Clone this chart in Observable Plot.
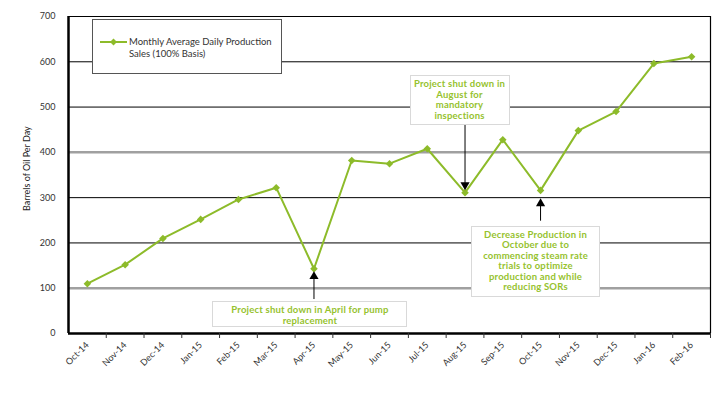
<!DOCTYPE html>
<html>
<head>
<meta charset="utf-8">
<script src="https://cdn.jsdelivr.net/npm/d3@7"></script>
<script src="https://cdn.jsdelivr.net/npm/@observablehq/plot@0.6"></script>
<style>
  body { margin: 0; background: #fff; }
  #wrap { position: relative; width: 720px; height: 393px; overflow: hidden; font-family: Lato, "Open Sans", sans-serif; }
  .box { position: absolute; background: #fff; border: 1px solid #d9d9d9; box-sizing: border-box;
         color: #96c22e; font-weight: bold; font-size: 9.5px; line-height: 10.5px; text-align: center;
         letter-spacing: 0.2px; padding-top: 3px; }
  .legend { position: absolute; background: #fff; border: 1px solid #555; box-sizing: border-box;
            font-size: 9.5px; color: #333; line-height: 12px; }
</style>
</head>
<body>
<div id="wrap"></div>
<script>
// ---- data ----
const months = ["Oct-14","Nov-14","Dec-14","Jan-15","Feb-15","Mar-15","Apr-15","May-15","Jun-15","Jul-15","Aug-15","Sep-15","Oct-15","Nov-15","Dec-15","Jan-16","Feb-16"];
const production = [110, 152, 210, 252, 296, 322, 143, 382, 375, 408, 311, 428, 316, 448, 490, 596, 611];
const yTicks = [0, 100, 200, 300, 400, 500, 600, 700];
const grayGrid = [100, 400];
const blackGrid = [200, 300, 500, 600, 700];
const yLabel = "Barrels of Oil Per Day";
const seriesName = ["Monthly Average Daily Production", "Sales (100% Basis)"];
const notes = [
  {month: "Aug-15", lines: ["Project shut down in", "August for", "mandatory", "inspections"], from: 462, to: 328, dir: "down"},
  {month: "Apr-15", lines: ["Project shut down in April for pump", "replacement"], from: 75, to: 126, dir: "up"},
  {month: "Oct-15", lines: ["Decrease Production in", "October due to", "commencing steam rate", "trials to optimize", "production and while", "reducing SORs"], from: 248, to: 287, dir: "up"}
];

const data = months.map((m, i) => ({i, m, v: production[i]}));
const idx = m => months.indexOf(m);
const lineColor = "#8dbb2a";

const plot = Plot.plot({
  width: 720,
  height: 393,
  marginLeft: 68,
  marginRight: 10,
  marginTop: 16,
  marginBottom: 60,
  style: {fontFamily: "Lato, 'Open Sans', sans-serif", fontSize: "9px", color: "#333", background: "#fff"},
  x: {type: "linear", domain: [-0.5, months.length - 0.5], axis: null},
  y: {domain: [0, 700], axis: null},
  marks: [
    Plot.ruleY(blackGrid, {stroke: "#000", strokeWidth: 1}),
    Plot.ruleY(grayGrid, {stroke: "#a0a0a0", strokeWidth: 2.5}),
    Plot.ruleX([months.length - 0.5], {stroke: "#000", strokeWidth: 1.2}),
    Plot.ruleX([-0.5], {stroke: "#000", strokeWidth: 2.5}),
    Plot.ruleY([0], {stroke: "#000", strokeWidth: 2.5}),
    Plot.axisY({ticks: yTicks, tickSize: 0, tickPadding: 13, label: null, fontSize: 9}),
    Plot.text([yLabel], {x: -0.5, y: 364, text: d => d, rotate: -90, dx: -41, fontSize: 9, fill: "#222"}),
    Plot.axisX({ticks: d3.range(-0.5, months.length, 1).slice(1), tickSize: 5, tickFormat: () => "", label: null}),
    Plot.axisX({ticks: d3.range(months.length), tickSize: 0, tickPadding: 10, tickRotate: -45, tickFormat: i => months[i], label: null, fontSize: 9}),
    Plot.line(data, {x: "i", y: "v", stroke: lineColor, strokeWidth: 2}),
    Plot.dot(data, {x: "i", y: "v", symbol: "diamond2", r: 3.4, fill: lineColor, stroke: "none"}),
    Plot.ruleX(notes, {x: d => idx(d.month), y1: "from", y2: "to", stroke: "#000", strokeWidth: 1}),
    Plot.dot(notes, {x: d => idx(d.month), y: "to", symbol: "triangle", r: 3.4, fill: "#000", rotate: d => d.dir === "down" ? 180 : 0})
  ]
});

const wrap = document.getElementById("wrap");
wrap.appendChild(plot);

const sx = plot.scale("x"), sy = plot.scale("y");
// annotation boxes, placed relative to the data point they annotate
const boxLayout = {
  "Aug-15": {dx: -55, dy: -117, w: 100, h: 50},
  "Apr-15": {dx: -101, dy: 33, w: 195, h: 26},
  "Oct-15": {dx: -69, dy: 36, w: 129, h: 71}
};
for (const n of notes) {
  const i = idx(n.month);
  const px = sx.apply(i), py = sy.apply(production[i]);
  const L = boxLayout[n.month];
  const div = document.createElement("div");
  div.className = "box";
  div.style.left = (px + L.dx) + "px";
  div.style.top = (py + L.dy) + "px";
  div.style.width = L.w + "px";
  div.style.height = L.h + "px";
  div.innerHTML = n.lines.map(t => `<div>${t}</div>`).join("");
  wrap.appendChild(div);
}

// legend
const leg = document.createElement("div");
leg.className = "legend";
leg.style.left = "92px"; leg.style.top = "19px"; leg.style.width = "190px"; leg.style.height = "55px";
leg.innerHTML = `
  <svg width="30" height="10" style="position:absolute;left:7px;top:17px">
    <line x1="0" y1="5" x2="27" y2="5" stroke="${lineColor}" stroke-width="2"/>
    <path d="M13.5,1.5 L17,5 L13.5,8.5 L10,5 Z" fill="${lineColor}"/>
  </svg>
  <div style="position:absolute;left:36px;top:16px;white-space:nowrap">${seriesName[0]}<br>${seriesName[1]}</div>`;
wrap.appendChild(leg);
</script>
</body>
</html>
